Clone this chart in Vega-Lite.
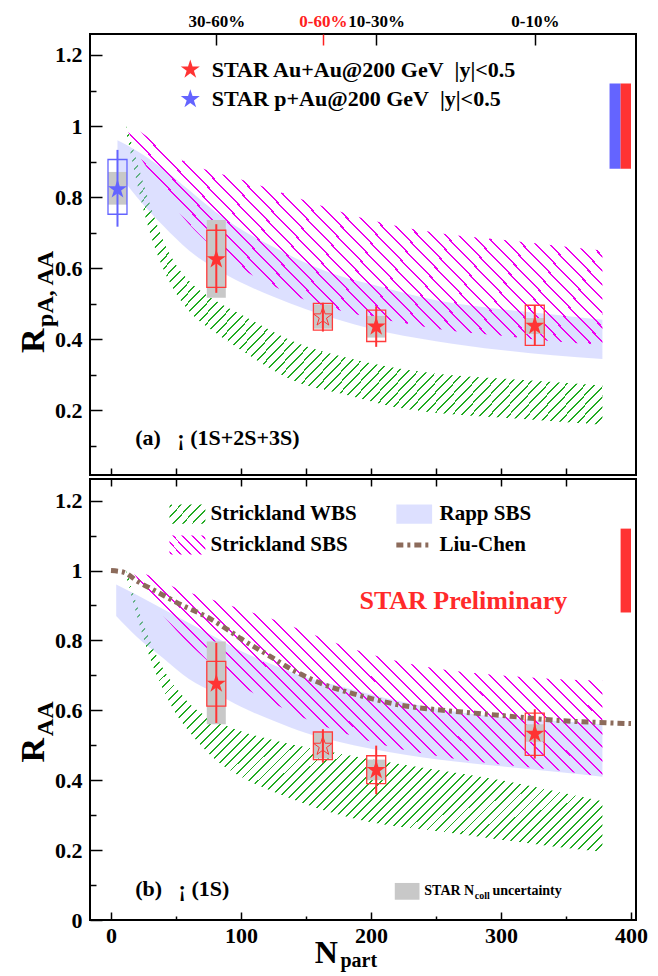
{
"$schema":"https://vega.github.io/schema/vega-lite/v6.json",
"background":"white",
"padding":{"left":16,"top":11,"right":0,"bottom":0},
"spacing":0,
"params":[
 {"name":"gM","value":{"gradient":"linear","x1":0,"y1":1,"x2":1.2,"y2":0.47,"stops":[
{"offset":0,"color":"#e0e"},{"offset":0.003,"color":"#e0e"},{"offset":0.003,"color":"#0000"},{"offset":0.02,"color":"#0000"},
{"offset":0.02,"color":"#e0e"},{"offset":0.023,"color":"#e0e"},{"offset":0.023,"color":"#0000"},{"offset":0.04,"color":"#0000"},
{"offset":0.04,"color":"#e0e"},{"offset":0.043,"color":"#e0e"},{"offset":0.043,"color":"#0000"},{"offset":0.06,"color":"#0000"},
{"offset":0.06,"color":"#e0e"},{"offset":0.063,"color":"#e0e"},{"offset":0.063,"color":"#0000"},{"offset":0.08,"color":"#0000"},
{"offset":0.08,"color":"#e0e"},{"offset":0.083,"color":"#e0e"},{"offset":0.083,"color":"#0000"},{"offset":0.1,"color":"#0000"},
{"offset":0.1,"color":"#e0e"},{"offset":0.103,"color":"#e0e"},{"offset":0.103,"color":"#0000"},{"offset":0.12,"color":"#0000"},
{"offset":0.12,"color":"#e0e"},{"offset":0.123,"color":"#e0e"},{"offset":0.123,"color":"#0000"},{"offset":0.14,"color":"#0000"},
{"offset":0.14,"color":"#e0e"},{"offset":0.143,"color":"#e0e"},{"offset":0.143,"color":"#0000"},{"offset":0.16,"color":"#0000"},
{"offset":0.16,"color":"#e0e"},{"offset":0.163,"color":"#e0e"},{"offset":0.163,"color":"#0000"},{"offset":0.18,"color":"#0000"},
{"offset":0.18,"color":"#e0e"},{"offset":0.183,"color":"#e0e"},{"offset":0.183,"color":"#0000"},{"offset":0.2,"color":"#0000"},
{"offset":0.2,"color":"#e0e"},{"offset":0.203,"color":"#e0e"},{"offset":0.203,"color":"#0000"},{"offset":0.22,"color":"#0000"},
{"offset":0.22,"color":"#e0e"},{"offset":0.223,"color":"#e0e"},{"offset":0.223,"color":"#0000"},{"offset":0.24,"color":"#0000"},
{"offset":0.24,"color":"#e0e"},{"offset":0.243,"color":"#e0e"},{"offset":0.243,"color":"#0000"},{"offset":0.26,"color":"#0000"},
{"offset":0.26,"color":"#e0e"},{"offset":0.263,"color":"#e0e"},{"offset":0.263,"color":"#0000"},{"offset":0.28,"color":"#0000"},
{"offset":0.28,"color":"#e0e"},{"offset":0.283,"color":"#e0e"},{"offset":0.283,"color":"#0000"},{"offset":0.3,"color":"#0000"},
{"offset":0.3,"color":"#e0e"},{"offset":0.303,"color":"#e0e"},{"offset":0.303,"color":"#0000"},{"offset":0.32,"color":"#0000"},
{"offset":0.32,"color":"#e0e"},{"offset":0.323,"color":"#e0e"},{"offset":0.323,"color":"#0000"},{"offset":0.34,"color":"#0000"},
{"offset":0.34,"color":"#e0e"},{"offset":0.343,"color":"#e0e"},{"offset":0.343,"color":"#0000"},{"offset":0.36,"color":"#0000"},
{"offset":0.36,"color":"#e0e"},{"offset":0.363,"color":"#e0e"},{"offset":0.363,"color":"#0000"},{"offset":0.38,"color":"#0000"},
{"offset":0.38,"color":"#e0e"},{"offset":0.383,"color":"#e0e"},{"offset":0.383,"color":"#0000"},{"offset":0.4,"color":"#0000"},
{"offset":0.4,"color":"#e0e"},{"offset":0.403,"color":"#e0e"},{"offset":0.403,"color":"#0000"},{"offset":0.42,"color":"#0000"},
{"offset":0.42,"color":"#e0e"},{"offset":0.423,"color":"#e0e"},{"offset":0.423,"color":"#0000"},{"offset":0.44,"color":"#0000"},
{"offset":0.44,"color":"#e0e"},{"offset":0.443,"color":"#e0e"},{"offset":0.443,"color":"#0000"},{"offset":0.46,"color":"#0000"},
{"offset":0.46,"color":"#e0e"},{"offset":0.463,"color":"#e0e"},{"offset":0.463,"color":"#0000"},{"offset":0.48,"color":"#0000"},
{"offset":0.48,"color":"#e0e"},{"offset":0.483,"color":"#e0e"},{"offset":0.483,"color":"#0000"},{"offset":0.5,"color":"#0000"},
{"offset":0.5,"color":"#e0e"},{"offset":0.503,"color":"#e0e"},{"offset":0.503,"color":"#0000"},{"offset":0.52,"color":"#0000"},
{"offset":0.52,"color":"#e0e"},{"offset":0.523,"color":"#e0e"},{"offset":0.523,"color":"#0000"},{"offset":0.54,"color":"#0000"},
{"offset":0.54,"color":"#e0e"},{"offset":0.543,"color":"#e0e"},{"offset":0.543,"color":"#0000"},{"offset":0.56,"color":"#0000"},
{"offset":0.56,"color":"#e0e"},{"offset":0.563,"color":"#e0e"},{"offset":0.563,"color":"#0000"},{"offset":0.58,"color":"#0000"},
{"offset":0.58,"color":"#e0e"},{"offset":0.583,"color":"#e0e"},{"offset":0.583,"color":"#0000"},{"offset":0.6,"color":"#0000"},
{"offset":0.6,"color":"#e0e"},{"offset":0.603,"color":"#e0e"},{"offset":0.603,"color":"#0000"},{"offset":0.62,"color":"#0000"},
{"offset":0.62,"color":"#e0e"},{"offset":0.623,"color":"#e0e"},{"offset":0.623,"color":"#0000"},{"offset":0.64,"color":"#0000"},
{"offset":0.64,"color":"#e0e"},{"offset":0.643,"color":"#e0e"},{"offset":0.643,"color":"#0000"},{"offset":0.66,"color":"#0000"},
{"offset":0.66,"color":"#e0e"},{"offset":0.663,"color":"#e0e"},{"offset":0.663,"color":"#0000"},{"offset":0.68,"color":"#0000"},
{"offset":0.68,"color":"#e0e"},{"offset":0.683,"color":"#e0e"},{"offset":0.683,"color":"#0000"},{"offset":0.7,"color":"#0000"},
{"offset":0.7,"color":"#e0e"},{"offset":0.703,"color":"#e0e"},{"offset":0.703,"color":"#0000"},{"offset":0.72,"color":"#0000"},
{"offset":0.72,"color":"#e0e"},{"offset":0.723,"color":"#e0e"},{"offset":0.723,"color":"#0000"},{"offset":0.74,"color":"#0000"},
{"offset":0.74,"color":"#e0e"},{"offset":0.743,"color":"#e0e"},{"offset":0.743,"color":"#0000"},{"offset":0.76,"color":"#0000"},
{"offset":0.76,"color":"#e0e"},{"offset":0.763,"color":"#e0e"},{"offset":0.763,"color":"#0000"},{"offset":0.78,"color":"#0000"},
{"offset":0.78,"color":"#e0e"},{"offset":0.783,"color":"#e0e"},{"offset":0.783,"color":"#0000"},{"offset":0.8,"color":"#0000"},
{"offset":0.8,"color":"#e0e"},{"offset":0.803,"color":"#e0e"},{"offset":0.803,"color":"#0000"},{"offset":0.82,"color":"#0000"},
{"offset":0.82,"color":"#e0e"},{"offset":0.823,"color":"#e0e"},{"offset":0.823,"color":"#0000"},{"offset":0.84,"color":"#0000"},
{"offset":0.84,"color":"#e0e"},{"offset":0.843,"color":"#e0e"},{"offset":0.843,"color":"#0000"},{"offset":0.86,"color":"#0000"},
{"offset":0.86,"color":"#e0e"},{"offset":0.863,"color":"#e0e"},{"offset":0.863,"color":"#0000"},{"offset":0.88,"color":"#0000"},
{"offset":0.88,"color":"#e0e"},{"offset":0.883,"color":"#e0e"},{"offset":0.883,"color":"#0000"},{"offset":0.9,"color":"#0000"},
{"offset":0.9,"color":"#e0e"},{"offset":0.903,"color":"#e0e"},{"offset":0.903,"color":"#0000"},{"offset":0.92,"color":"#0000"},
{"offset":0.92,"color":"#e0e"},{"offset":0.923,"color":"#e0e"},{"offset":0.923,"color":"#0000"},{"offset":0.94,"color":"#0000"},
{"offset":0.94,"color":"#e0e"},{"offset":0.943,"color":"#e0e"},{"offset":0.943,"color":"#0000"},{"offset":0.96,"color":"#0000"},
{"offset":0.96,"color":"#e0e"},{"offset":0.963,"color":"#e0e"},{"offset":0.963,"color":"#0000"},{"offset":0.98,"color":"#0000"},
{"offset":0.98,"color":"#e0e"},{"offset":0.983,"color":"#e0e"},{"offset":0.983,"color":"#0000"},{"offset":1,"color":"#0000"}
 ]}},
 {"name":"gG","value":{"gradient":"linear","x1":0,"y1":0,"x2":1.18,"y2":0.7,"stops":[
{"offset":0,"color":"#2a2"},{"offset":0.0025,"color":"#2a2"},{"offset":0.0025,"color":"#0000"},{"offset":0.0125,"color":"#0000"},
{"offset":0.0125,"color":"#2a2"},{"offset":0.015,"color":"#2a2"},{"offset":0.015,"color":"#0000"},{"offset":0.025,"color":"#0000"},
{"offset":0.025,"color":"#2a2"},{"offset":0.0275,"color":"#2a2"},{"offset":0.0275,"color":"#0000"},{"offset":0.0375,"color":"#0000"},
{"offset":0.0375,"color":"#2a2"},{"offset":0.04,"color":"#2a2"},{"offset":0.04,"color":"#0000"},{"offset":0.05,"color":"#0000"},
{"offset":0.05,"color":"#2a2"},{"offset":0.0525,"color":"#2a2"},{"offset":0.0525,"color":"#0000"},{"offset":0.0625,"color":"#0000"},
{"offset":0.0625,"color":"#2a2"},{"offset":0.065,"color":"#2a2"},{"offset":0.065,"color":"#0000"},{"offset":0.075,"color":"#0000"},
{"offset":0.075,"color":"#2a2"},{"offset":0.0775,"color":"#2a2"},{"offset":0.0775,"color":"#0000"},{"offset":0.0875,"color":"#0000"},
{"offset":0.0875,"color":"#2a2"},{"offset":0.09,"color":"#2a2"},{"offset":0.09,"color":"#0000"},{"offset":0.1,"color":"#0000"},
{"offset":0.1,"color":"#2a2"},{"offset":0.1025,"color":"#2a2"},{"offset":0.1025,"color":"#0000"},{"offset":0.1125,"color":"#0000"},
{"offset":0.1125,"color":"#2a2"},{"offset":0.115,"color":"#2a2"},{"offset":0.115,"color":"#0000"},{"offset":0.125,"color":"#0000"},
{"offset":0.125,"color":"#2a2"},{"offset":0.1275,"color":"#2a2"},{"offset":0.1275,"color":"#0000"},{"offset":0.1375,"color":"#0000"},
{"offset":0.1375,"color":"#2a2"},{"offset":0.14,"color":"#2a2"},{"offset":0.14,"color":"#0000"},{"offset":0.15,"color":"#0000"},
{"offset":0.15,"color":"#2a2"},{"offset":0.1525,"color":"#2a2"},{"offset":0.1525,"color":"#0000"},{"offset":0.1625,"color":"#0000"},
{"offset":0.1625,"color":"#2a2"},{"offset":0.165,"color":"#2a2"},{"offset":0.165,"color":"#0000"},{"offset":0.175,"color":"#0000"},
{"offset":0.175,"color":"#2a2"},{"offset":0.1775,"color":"#2a2"},{"offset":0.1775,"color":"#0000"},{"offset":0.1875,"color":"#0000"},
{"offset":0.1875,"color":"#2a2"},{"offset":0.19,"color":"#2a2"},{"offset":0.19,"color":"#0000"},{"offset":0.2,"color":"#0000"},
{"offset":0.2,"color":"#2a2"},{"offset":0.2025,"color":"#2a2"},{"offset":0.2025,"color":"#0000"},{"offset":0.2125,"color":"#0000"},
{"offset":0.2125,"color":"#2a2"},{"offset":0.215,"color":"#2a2"},{"offset":0.215,"color":"#0000"},{"offset":0.225,"color":"#0000"},
{"offset":0.225,"color":"#2a2"},{"offset":0.2275,"color":"#2a2"},{"offset":0.2275,"color":"#0000"},{"offset":0.2375,"color":"#0000"},
{"offset":0.2375,"color":"#2a2"},{"offset":0.24,"color":"#2a2"},{"offset":0.24,"color":"#0000"},{"offset":0.25,"color":"#0000"},
{"offset":0.25,"color":"#2a2"},{"offset":0.2525,"color":"#2a2"},{"offset":0.2525,"color":"#0000"},{"offset":0.2625,"color":"#0000"},
{"offset":0.2625,"color":"#2a2"},{"offset":0.265,"color":"#2a2"},{"offset":0.265,"color":"#0000"},{"offset":0.275,"color":"#0000"},
{"offset":0.275,"color":"#2a2"},{"offset":0.2775,"color":"#2a2"},{"offset":0.2775,"color":"#0000"},{"offset":0.2875,"color":"#0000"},
{"offset":0.2875,"color":"#2a2"},{"offset":0.29,"color":"#2a2"},{"offset":0.29,"color":"#0000"},{"offset":0.3,"color":"#0000"},
{"offset":0.3,"color":"#2a2"},{"offset":0.3025,"color":"#2a2"},{"offset":0.3025,"color":"#0000"},{"offset":0.3125,"color":"#0000"},
{"offset":0.3125,"color":"#2a2"},{"offset":0.315,"color":"#2a2"},{"offset":0.315,"color":"#0000"},{"offset":0.325,"color":"#0000"},
{"offset":0.325,"color":"#2a2"},{"offset":0.3275,"color":"#2a2"},{"offset":0.3275,"color":"#0000"},{"offset":0.3375,"color":"#0000"},
{"offset":0.3375,"color":"#2a2"},{"offset":0.34,"color":"#2a2"},{"offset":0.34,"color":"#0000"},{"offset":0.35,"color":"#0000"},
{"offset":0.35,"color":"#2a2"},{"offset":0.3525,"color":"#2a2"},{"offset":0.3525,"color":"#0000"},{"offset":0.3625,"color":"#0000"},
{"offset":0.3625,"color":"#2a2"},{"offset":0.365,"color":"#2a2"},{"offset":0.365,"color":"#0000"},{"offset":0.375,"color":"#0000"},
{"offset":0.375,"color":"#2a2"},{"offset":0.3775,"color":"#2a2"},{"offset":0.3775,"color":"#0000"},{"offset":0.3875,"color":"#0000"},
{"offset":0.3875,"color":"#2a2"},{"offset":0.39,"color":"#2a2"},{"offset":0.39,"color":"#0000"},{"offset":0.4,"color":"#0000"},
{"offset":0.4,"color":"#2a2"},{"offset":0.4025,"color":"#2a2"},{"offset":0.4025,"color":"#0000"},{"offset":0.4125,"color":"#0000"},
{"offset":0.4125,"color":"#2a2"},{"offset":0.415,"color":"#2a2"},{"offset":0.415,"color":"#0000"},{"offset":0.425,"color":"#0000"},
{"offset":0.425,"color":"#2a2"},{"offset":0.4275,"color":"#2a2"},{"offset":0.4275,"color":"#0000"},{"offset":0.4375,"color":"#0000"},
{"offset":0.4375,"color":"#2a2"},{"offset":0.44,"color":"#2a2"},{"offset":0.44,"color":"#0000"},{"offset":0.45,"color":"#0000"},
{"offset":0.45,"color":"#2a2"},{"offset":0.4525,"color":"#2a2"},{"offset":0.4525,"color":"#0000"},{"offset":0.4625,"color":"#0000"},
{"offset":0.4625,"color":"#2a2"},{"offset":0.465,"color":"#2a2"},{"offset":0.465,"color":"#0000"},{"offset":0.475,"color":"#0000"},
{"offset":0.475,"color":"#2a2"},{"offset":0.4775,"color":"#2a2"},{"offset":0.4775,"color":"#0000"},{"offset":0.4875,"color":"#0000"},
{"offset":0.4875,"color":"#2a2"},{"offset":0.49,"color":"#2a2"},{"offset":0.49,"color":"#0000"},{"offset":0.5,"color":"#0000"},
{"offset":0.5,"color":"#2a2"},{"offset":0.5025,"color":"#2a2"},{"offset":0.5025,"color":"#0000"},{"offset":0.5125,"color":"#0000"},
{"offset":0.5125,"color":"#2a2"},{"offset":0.515,"color":"#2a2"},{"offset":0.515,"color":"#0000"},{"offset":0.525,"color":"#0000"},
{"offset":0.525,"color":"#2a2"},{"offset":0.5275,"color":"#2a2"},{"offset":0.5275,"color":"#0000"},{"offset":0.5375,"color":"#0000"},
{"offset":0.5375,"color":"#2a2"},{"offset":0.54,"color":"#2a2"},{"offset":0.54,"color":"#0000"},{"offset":0.55,"color":"#0000"},
{"offset":0.55,"color":"#2a2"},{"offset":0.5525,"color":"#2a2"},{"offset":0.5525,"color":"#0000"},{"offset":0.5625,"color":"#0000"},
{"offset":0.5625,"color":"#2a2"},{"offset":0.565,"color":"#2a2"},{"offset":0.565,"color":"#0000"},{"offset":0.575,"color":"#0000"},
{"offset":0.575,"color":"#2a2"},{"offset":0.5775,"color":"#2a2"},{"offset":0.5775,"color":"#0000"},{"offset":0.5875,"color":"#0000"},
{"offset":0.5875,"color":"#2a2"},{"offset":0.59,"color":"#2a2"},{"offset":0.59,"color":"#0000"},{"offset":0.6,"color":"#0000"},
{"offset":0.6,"color":"#2a2"},{"offset":0.6025,"color":"#2a2"},{"offset":0.6025,"color":"#0000"},{"offset":0.6125,"color":"#0000"},
{"offset":0.6125,"color":"#2a2"},{"offset":0.615,"color":"#2a2"},{"offset":0.615,"color":"#0000"},{"offset":0.625,"color":"#0000"},
{"offset":0.625,"color":"#2a2"},{"offset":0.6275,"color":"#2a2"},{"offset":0.6275,"color":"#0000"},{"offset":0.6375,"color":"#0000"},
{"offset":0.6375,"color":"#2a2"},{"offset":0.64,"color":"#2a2"},{"offset":0.64,"color":"#0000"},{"offset":0.65,"color":"#0000"},
{"offset":0.65,"color":"#2a2"},{"offset":0.6525,"color":"#2a2"},{"offset":0.6525,"color":"#0000"},{"offset":0.6625,"color":"#0000"},
{"offset":0.6625,"color":"#2a2"},{"offset":0.665,"color":"#2a2"},{"offset":0.665,"color":"#0000"},{"offset":0.675,"color":"#0000"},
{"offset":0.675,"color":"#2a2"},{"offset":0.6775,"color":"#2a2"},{"offset":0.6775,"color":"#0000"},{"offset":0.6875,"color":"#0000"},
{"offset":0.6875,"color":"#2a2"},{"offset":0.69,"color":"#2a2"},{"offset":0.69,"color":"#0000"},{"offset":0.7,"color":"#0000"},
{"offset":0.7,"color":"#2a2"},{"offset":0.7025,"color":"#2a2"},{"offset":0.7025,"color":"#0000"},{"offset":0.7125,"color":"#0000"},
{"offset":0.7125,"color":"#2a2"},{"offset":0.715,"color":"#2a2"},{"offset":0.715,"color":"#0000"},{"offset":0.725,"color":"#0000"},
{"offset":0.725,"color":"#2a2"},{"offset":0.7275,"color":"#2a2"},{"offset":0.7275,"color":"#0000"},{"offset":0.7375,"color":"#0000"},
{"offset":0.7375,"color":"#2a2"},{"offset":0.74,"color":"#2a2"},{"offset":0.74,"color":"#0000"},{"offset":0.75,"color":"#0000"},
{"offset":0.75,"color":"#2a2"},{"offset":0.7525,"color":"#2a2"},{"offset":0.7525,"color":"#0000"},{"offset":0.7625,"color":"#0000"},
{"offset":0.7625,"color":"#2a2"},{"offset":0.765,"color":"#2a2"},{"offset":0.765,"color":"#0000"},{"offset":0.775,"color":"#0000"},
{"offset":0.775,"color":"#2a2"},{"offset":0.7775,"color":"#2a2"},{"offset":0.7775,"color":"#0000"},{"offset":0.7875,"color":"#0000"},
{"offset":0.7875,"color":"#2a2"},{"offset":0.79,"color":"#2a2"},{"offset":0.79,"color":"#0000"},{"offset":0.8,"color":"#0000"},
{"offset":0.8,"color":"#2a2"},{"offset":0.8025,"color":"#2a2"},{"offset":0.8025,"color":"#0000"},{"offset":0.8125,"color":"#0000"},
{"offset":0.8125,"color":"#2a2"},{"offset":0.815,"color":"#2a2"},{"offset":0.815,"color":"#0000"},{"offset":0.825,"color":"#0000"},
{"offset":0.825,"color":"#2a2"},{"offset":0.8275,"color":"#2a2"},{"offset":0.8275,"color":"#0000"},{"offset":0.8375,"color":"#0000"},
{"offset":0.8375,"color":"#2a2"},{"offset":0.84,"color":"#2a2"},{"offset":0.84,"color":"#0000"},{"offset":0.85,"color":"#0000"},
{"offset":0.85,"color":"#2a2"},{"offset":0.8525,"color":"#2a2"},{"offset":0.8525,"color":"#0000"},{"offset":0.8625,"color":"#0000"},
{"offset":0.8625,"color":"#2a2"},{"offset":0.865,"color":"#2a2"},{"offset":0.865,"color":"#0000"},{"offset":0.875,"color":"#0000"},
{"offset":0.875,"color":"#2a2"},{"offset":0.8775,"color":"#2a2"},{"offset":0.8775,"color":"#0000"},{"offset":0.8875,"color":"#0000"},
{"offset":0.8875,"color":"#2a2"},{"offset":0.89,"color":"#2a2"},{"offset":0.89,"color":"#0000"},{"offset":0.9,"color":"#0000"},
{"offset":0.9,"color":"#2a2"},{"offset":0.9025,"color":"#2a2"},{"offset":0.9025,"color":"#0000"},{"offset":0.9125,"color":"#0000"},
{"offset":0.9125,"color":"#2a2"},{"offset":0.915,"color":"#2a2"},{"offset":0.915,"color":"#0000"},{"offset":0.925,"color":"#0000"},
{"offset":0.925,"color":"#2a2"},{"offset":0.9275,"color":"#2a2"},{"offset":0.9275,"color":"#0000"},{"offset":0.9375,"color":"#0000"},
{"offset":0.9375,"color":"#2a2"},{"offset":0.94,"color":"#2a2"},{"offset":0.94,"color":"#0000"},{"offset":0.95,"color":"#0000"},
{"offset":0.95,"color":"#2a2"},{"offset":0.9525,"color":"#2a2"},{"offset":0.9525,"color":"#0000"},{"offset":0.9625,"color":"#0000"},
{"offset":0.9625,"color":"#2a2"},{"offset":0.965,"color":"#2a2"},{"offset":0.965,"color":"#0000"},{"offset":0.975,"color":"#0000"},
{"offset":0.975,"color":"#2a2"},{"offset":0.9775,"color":"#2a2"},{"offset":0.9775,"color":"#0000"},{"offset":0.9875,"color":"#0000"},
{"offset":0.9875,"color":"#2a2"},{"offset":0.99,"color":"#2a2"},{"offset":0.99,"color":"#0000"},{"offset":1,"color":"#0000"}
 ]}},
 {"name":"sG","value":{"gradient":"linear","x1":0,"y1":0,"x2":1.2,"y2":0.615,"stops":[
{"offset":0,"color":"#0000"},{"offset":0.02,"color":"#0000"},{"offset":0.02,"color":"#2a2"},{"offset":0.055,"color":"#2a2"},{"offset":0.055,"color":"#0000"},
{"offset":0.2,"color":"#0000"},{"offset":0.2,"color":"#2a2"},{"offset":0.235,"color":"#2a2"},{"offset":0.235,"color":"#0000"},
{"offset":0.38,"color":"#0000"},{"offset":0.38,"color":"#2a2"},{"offset":0.415,"color":"#2a2"},{"offset":0.415,"color":"#0000"},
{"offset":0.56,"color":"#0000"},{"offset":0.56,"color":"#2a2"},{"offset":0.595,"color":"#2a2"},{"offset":0.595,"color":"#0000"},
{"offset":0.74,"color":"#0000"},{"offset":0.74,"color":"#2a2"},{"offset":0.775,"color":"#2a2"},{"offset":0.775,"color":"#0000"},
{"offset":0.92,"color":"#0000"},{"offset":0.92,"color":"#2a2"},{"offset":0.955,"color":"#2a2"},{"offset":0.955,"color":"#0000"},{"offset":1,"color":"#0000"}
 ]}},
 {"name":"sM","value":{"gradient":"linear","x1":0,"y1":1,"x2":1.2,"y2":0.385,"stops":[
{"offset":0,"color":"#0000"},{"offset":0.02,"color":"#0000"},{"offset":0.02,"color":"#e0e"},{"offset":0.055,"color":"#e0e"},{"offset":0.055,"color":"#0000"},
{"offset":0.2,"color":"#0000"},{"offset":0.2,"color":"#e0e"},{"offset":0.235,"color":"#e0e"},{"offset":0.235,"color":"#0000"},
{"offset":0.38,"color":"#0000"},{"offset":0.38,"color":"#e0e"},{"offset":0.415,"color":"#e0e"},{"offset":0.415,"color":"#0000"},
{"offset":0.56,"color":"#0000"},{"offset":0.56,"color":"#e0e"},{"offset":0.595,"color":"#e0e"},{"offset":0.595,"color":"#0000"},
{"offset":0.74,"color":"#0000"},{"offset":0.74,"color":"#e0e"},{"offset":0.775,"color":"#e0e"},{"offset":0.775,"color":"#0000"},
{"offset":0.92,"color":"#0000"},{"offset":0.92,"color":"#e0e"},{"offset":0.955,"color":"#e0e"},{"offset":0.955,"color":"#0000"},{"offset":1,"color":"#0000"}
 ]}}
],
"config":{
 "view":{"stroke":"black","strokeWidth":2},
 "font":"Liberation Serif",
 "axis":{"domain":false,"grid":false,"labelFont":"Liberation Serif","labelFontWeight":"bold","labelFontSize":22,"labelColor":"black","tickColor":"black","tickWidth":1.5,"labelOverlap":false,"labelFlush":false,"labelBound":false},
 "text":{"font":"Liberation Serif","fontWeight":"bold","color":"black"}
},
"datasets":{
 "bands":[
  {"p":"a","m":"WBS","x":12,"lo":0.98,"hi":1.0},{"p":"a","m":"WBS","x":20,"lo":0.84,"hi":0.9},{"p":"a","m":"WBS","x":30,"lo":0.7,"hi":0.78},{"p":"a","m":"WBS","x":40,"lo":0.6,"hi":0.68},{"p":"a","m":"WBS","x":50,"lo":0.53,"hi":0.61},{"p":"a","m":"WBS","x":60,"lo":0.48,"hi":0.565},{"p":"a","m":"WBS","x":80,"lo":0.42,"hi":0.51},{"p":"a","m":"WBS","x":100,"lo":0.37,"hi":0.47},{"p":"a","m":"WBS","x":143,"lo":0.28,"hi":0.39},{"p":"a","m":"WBS","x":180,"lo":0.245,"hi":0.35},{"p":"a","m":"WBS","x":218,"lo":0.21,"hi":0.32},{"p":"a","m":"WBS","x":260,"lo":0.19,"hi":0.3},{"p":"a","m":"WBS","x":300,"lo":0.18,"hi":0.29},{"p":"a","m":"WBS","x":340,"lo":0.17,"hi":0.28},{"p":"a","m":"WBS","x":378,"lo":0.16,"hi":0.27},
  {"p":"a","m":"SBS","x":12,"lo":0.995,"hi":1.0},{"p":"a","m":"SBS","x":20,"lo":0.93,"hi":0.99},{"p":"a","m":"SBS","x":30,"lo":0.87,"hi":0.965},{"p":"a","m":"SBS","x":40,"lo":0.82,"hi":0.94},{"p":"a","m":"SBS","x":54,"lo":0.75,"hi":0.905},{"p":"a","m":"SBS","x":75,"lo":0.67,"hi":0.875},{"p":"a","m":"SBS","x":100,"lo":0.6,"hi":0.85},{"p":"a","m":"SBS","x":125,"lo":0.55,"hi":0.82},{"p":"a","m":"SBS","x":150,"lo":0.51,"hi":0.79},{"p":"a","m":"SBS","x":183,"lo":0.475,"hi":0.752},{"p":"a","m":"SBS","x":218,"lo":0.45,"hi":0.72},{"p":"a","m":"SBS","x":250,"lo":0.43,"hi":0.7},{"p":"a","m":"SBS","x":301,"lo":0.41,"hi":0.68},{"p":"a","m":"SBS","x":340,"lo":0.395,"hi":0.665},{"p":"a","m":"SBS","x":378,"lo":0.385,"hi":0.65},
  {"p":"a","m":"Rapp","x":5,"lo":0.87,"hi":0.96},{"p":"a","m":"Rapp","x":20,"lo":0.8,"hi":0.93},{"p":"a","m":"Rapp","x":40,"lo":0.72,"hi":0.88},{"p":"a","m":"Rapp","x":60,"lo":0.65,"hi":0.82},{"p":"a","m":"Rapp","x":80,"lo":0.6,"hi":0.76},{"p":"a","m":"Rapp","x":100,"lo":0.56,"hi":0.71},{"p":"a","m":"Rapp","x":125,"lo":0.52,"hi":0.66},{"p":"a","m":"Rapp","x":150,"lo":0.485,"hi":0.615},{"p":"a","m":"Rapp","x":175,"lo":0.455,"hi":0.58},{"p":"a","m":"Rapp","x":200,"lo":0.43,"hi":0.555},{"p":"a","m":"Rapp","x":250,"lo":0.395,"hi":0.51},{"p":"a","m":"Rapp","x":300,"lo":0.37,"hi":0.485},{"p":"a","m":"Rapp","x":340,"lo":0.355,"hi":0.47},{"p":"a","m":"Rapp","x":378,"lo":0.345,"hi":0.455},
  {"p":"b","m":"WBS","x":12,"lo":0.98,"hi":1.0},{"p":"b","m":"WBS","x":20,"lo":0.87,"hi":0.9},{"p":"b","m":"WBS","x":30,"lo":0.75,"hi":0.8},{"p":"b","m":"WBS","x":40,"lo":0.66,"hi":0.72},{"p":"b","m":"WBS","x":50,"lo":0.59,"hi":0.665},{"p":"b","m":"WBS","x":60,"lo":0.54,"hi":0.62},{"p":"b","m":"WBS","x":80,"lo":0.46,"hi":0.57},{"p":"b","m":"WBS","x":100,"lo":0.41,"hi":0.54},{"p":"b","m":"WBS","x":130,"lo":0.36,"hi":0.51},{"p":"b","m":"WBS","x":163,"lo":0.315,"hi":0.485},{"p":"b","m":"WBS","x":200,"lo":0.28,"hi":0.46},{"p":"b","m":"WBS","x":250,"lo":0.255,"hi":0.43},{"p":"b","m":"WBS","x":300,"lo":0.23,"hi":0.4},{"p":"b","m":"WBS","x":340,"lo":0.21,"hi":0.37},{"p":"b","m":"WBS","x":378,"lo":0.195,"hi":0.34},
  {"p":"b","m":"SBS","x":18,"lo":0.99,"hi":1.0},{"p":"b","m":"SBS","x":30,"lo":0.92,"hi":0.985},{"p":"b","m":"SBS","x":50,"lo":0.83,"hi":0.95},{"p":"b","m":"SBS","x":75,"lo":0.74,"hi":0.92},{"p":"b","m":"SBS","x":100,"lo":0.67,"hi":0.89},{"p":"b","m":"SBS","x":125,"lo":0.62,"hi":0.86},{"p":"b","m":"SBS","x":150,"lo":0.575,"hi":0.825},{"p":"b","m":"SBS","x":175,"lo":0.54,"hi":0.79},{"p":"b","m":"SBS","x":200,"lo":0.51,"hi":0.76},{"p":"b","m":"SBS","x":250,"lo":0.47,"hi":0.72},{"p":"b","m":"SBS","x":300,"lo":0.445,"hi":0.7},{"p":"b","m":"SBS","x":340,"lo":0.43,"hi":0.69},{"p":"b","m":"SBS","x":378,"lo":0.41,"hi":0.685},
  {"p":"b","m":"Rapp","x":4,"lo":0.87,"hi":0.96},{"p":"b","m":"Rapp","x":20,"lo":0.81,"hi":0.93},{"p":"b","m":"Rapp","x":40,"lo":0.75,"hi":0.89},{"p":"b","m":"Rapp","x":60,"lo":0.69,"hi":0.85},{"p":"b","m":"Rapp","x":80,"lo":0.65,"hi":0.81},{"p":"b","m":"Rapp","x":100,"lo":0.61,"hi":0.77},{"p":"b","m":"Rapp","x":125,"lo":0.57,"hi":0.73},{"p":"b","m":"Rapp","x":150,"lo":0.535,"hi":0.695},{"p":"b","m":"Rapp","x":175,"lo":0.51,"hi":0.67},{"p":"b","m":"Rapp","x":200,"lo":0.49,"hi":0.645},{"p":"b","m":"Rapp","x":250,"lo":0.46,"hi":0.605},{"p":"b","m":"Rapp","x":300,"lo":0.44,"hi":0.58},{"p":"b","m":"Rapp","x":340,"lo":0.425,"hi":0.57},{"p":"b","m":"Rapp","x":378,"lo":0.41,"hi":0.56}
 ],
 "liu":[
  {"x":0,"r":1.0},{"x":10,"r":0.995},{"x":20,"r":0.97},{"x":35,"r":0.94},{"x":55,"r":0.9},{"x":75,"r":0.865},{"x":90,"r":0.83},{"x":100,"r":0.805},{"x":120,"r":0.76},{"x":140,"r":0.715},{"x":163,"r":0.675},{"x":186,"r":0.648},{"x":201,"r":0.633},{"x":221,"r":0.616},{"x":250,"r":0.602},{"x":280,"r":0.592},{"x":310,"r":0.582},{"x":340,"r":0.572},{"x":370,"r":0.566},{"x":400,"r":0.562}
 ],
 "pts":[
  {"p":"a","e":"pAu","x":5,"y":0.822,"sLo":0.752,"sHi":0.906,"nLo":0.779,"nHi":0.871,"eLo":0.717,"eHi":0.933,"open":false},
  {"p":"a","e":"AuAu","x":81,"y":0.625,"sLo":0.546,"sHi":0.707,"nLo":0.517,"nHi":0.736,"eLo":0.531,"eHi":0.724,"open":false},
  {"p":"a","e":"AuAu","x":163,"y":0.463,"sLo":0.426,"sHi":0.501,"nLo":0.43,"nHi":0.498,"eLo":0.422,"eHi":0.503,"open":true},
  {"p":"a","e":"AuAu","x":204,"y":0.436,"sLo":0.394,"sHi":0.482,"nLo":0.405,"nHi":0.466,"eLo":0.379,"eHi":0.493,"open":false},
  {"p":"a","e":"AuAu","x":326,"y":0.438,"sLo":0.383,"sHi":0.496,"nLo":0.415,"nHi":0.46,"eLo":0.383,"eHi":0.496,"open":false},
  {"p":"b","e":"AuAu","x":81,"y":0.676,"sLo":0.612,"sHi":0.74,"nLo":0.56,"nHi":0.797,"eLo":0.564,"eHi":0.793,"open":false},
  {"p":"b","e":"AuAu","x":163,"y":0.497,"sLo":0.459,"sHi":0.538,"nLo":0.462,"nHi":0.535,"eLo":0.45,"eHi":0.546,"open":true},
  {"p":"b","e":"AuAu","x":204,"y":0.429,"sLo":0.39,"sHi":0.47,"nLo":0.4,"nHi":0.459,"eLo":0.36,"eHi":0.499,"open":false},
  {"p":"b","e":"AuAu","x":326,"y":0.533,"sLo":0.471,"sHi":0.592,"nLo":0.51,"nHi":0.56,"eLo":0.462,"eHi":0.603,"open":false}
 ],
 "glob":[
  {"p":"a","e":"pAu","lo":0.88,"hi":1.12},{"p":"a","e":"AuAu","lo":0.88,"hi":1.12},{"p":"b","e":"AuAu","lo":0.88,"hi":1.12}
 ]
},
"vconcat":[
 {
  "width":546,"height":441,
  "resolve":{"axis":{"x":"independent","y":"independent"}},
  "layer":[
   {"data":{"name":"bands"},"transform":[{"filter":"datum.p=='a' && datum.m=='WBS'"}],
    "mark":{"type":"area","fill":{"expr":"gG"},"interpolate":"monotone"},
    "encoding":{
     "x":{"field":"x","type":"quantitative","scale":{"domain":[-12.3,400],"nice":false,"zero":false},
      "axis":{"orient":"bottom","values":[0,50,100,150,200,250,300,350],"labels":false,"tickSize":-7,"title":null}},
     "y":{"field":"lo","type":"quantitative","scale":{"domain":[0.0185,1.259],"nice":false,"zero":false},
      "axis":{"orient":"left","title":null,"values":[0.2,0.4,0.6,0.8,1,1.2],
       "labelExpr":"datum.value==1 ? '1' : format(datum.value,'.1f')",
       "tickSize":-12,"labelPadding":20}},
     "y2":{"field":"hi"}}},
   {"data":{"name":"bands"},"transform":[{"filter":"datum.p=='a' && datum.m=='Rapp'"}],
    "mark":{"type":"area","fill":"#b4baff","fillOpacity":0.45,"interpolate":"monotone"},
    "encoding":{"x":{"field":"x","type":"quantitative","axis":null},
     "y":{"field":"lo","type":"quantitative","axis":{"orient":"left","title":null,"values":[0.1,0.3,0.5,0.7,0.9,1.1],"labels":false,"tickSize":-6}},
     "y2":{"field":"hi"}}},
   {"data":{"name":"bands"},"transform":[{"filter":"datum.p=='a' && datum.m=='SBS'"}],
    "mark":{"type":"area","fill":{"expr":"gM"},"interpolate":"monotone"},
    "encoding":{
     "x":{"field":"x","type":"quantitative","axis":{"orient":"top","title":null,"values":[81,163,204,326],
       "labelExpr":"datum.value==81 ? '30-60%' : datum.value==163 ? '0-60%' : datum.value==204 ? '10-30%' : '0-10%'",
       "labelColor":{"condition":{"test":"datum.value==163","value":"#ff2020"},"value":"black"},
       "tickColor":{"condition":{"test":"datum.value==163","value":"#ff2020"},"value":"black"},
       "tickSize":-11,"labelPadding":15,"labelFontSize":17}},
     "y":{"field":"lo","type":"quantitative","axis":null},"y2":{"field":"hi"}}},
   {"data":{"name":"glob"},"transform":[{"filter":"datum.p=='a' && datum.e=='pAu'"}],
    "mark":{"type":"rect","color":"#6464ff"},
    "encoding":{"x":{"datum":383.5,"type":"quantitative","axis":null},"x2":{"datum":392},"y":{"field":"lo","type":"quantitative","axis":null},"y2":{"field":"hi"}}},
   {"data":{"name":"glob"},"transform":[{"filter":"datum.p=='a' && datum.e=='AuAu'"}],
    "mark":{"type":"rect","color":"#ff3333"},
    "encoding":{"x":{"datum":392,"type":"quantitative","axis":null},"x2":{"datum":400},"y":{"field":"lo","type":"quantitative","axis":null},"y2":{"field":"hi"}}},
   {"data":{"name":"pts"},"transform":[{"filter":"datum.p=='a'"}],
    "mark":{"type":"bar","size":19,"color":"#c8c8c8"},
    "encoding":{"x":{"field":"x","type":"quantitative","axis":null},"y":{"field":"nLo","type":"quantitative","axis":null},"y2":{"field":"nHi"}}},
   {"data":{"name":"pts"},"transform":[{"filter":"datum.p=='a'"}],
    "mark":{"type":"bar","size":19,"fill":"transparent","strokeWidth":1.3},
    "encoding":{"x":{"field":"x","type":"quantitative","axis":null},"y":{"field":"sLo","type":"quantitative","axis":null},"y2":{"field":"sHi"},
     "stroke":{"field":"e","type":"nominal","scale":{"domain":["AuAu","pAu"],"range":["#ff3b3b","#6464ff"]},"legend":null}}},
   {"data":{"name":"pts"},"transform":[{"filter":"datum.p=='a'"}],
    "mark":{"type":"rule","strokeWidth":2},
    "encoding":{"x":{"field":"x","type":"quantitative","axis":null},"y":{"field":"eLo","type":"quantitative","axis":null},"y2":{"field":"eHi"},
     "color":{"field":"e","type":"nominal","scale":{"domain":["AuAu","pAu"],"range":["#ff3333","#6464ff"]},"legend":null}}},
   {"data":{"name":"pts"},"transform":[{"filter":"datum.p=='a' && !datum.open"}],
    "mark":{"type":"point","shape":"M0,-1L0.2245,-0.309L0.951,-0.309L0.363,0.118L0.588,0.809L0,0.382L-0.588,0.809L-0.363,0.118L-0.951,-0.309L-0.2245,-0.309Z","filled":true,"size":400,"opacity":1},
    "encoding":{"x":{"field":"x","type":"quantitative","axis":null},"y":{"field":"y","type":"quantitative","axis":null},
     "color":{"field":"e","type":"nominal","scale":{"domain":["AuAu","pAu"],"range":["#ff3333","#6464ff"]},"legend":null}}},
   {"data":{"name":"pts"},"transform":[{"filter":"datum.p=='a' && datum.open"}],
    "mark":{"type":"point","shape":"M0,-1L0.2245,-0.309L0.951,-0.309L0.363,0.118L0.588,0.809L0,0.382L-0.588,0.809L-0.363,0.118L-0.951,-0.309L-0.2245,-0.309Z","filled":false,"size":400,"opacity":1,"color":"#ff3333","strokeWidth":1},
    "encoding":{"x":{"field":"x","type":"quantitative","axis":null},"y":{"field":"y","type":"quantitative","axis":null}}},
   {"data":{"values":[{}]},
    "mark":{"type":"point","shape":"M0,-1L0.2245,-0.309L0.951,-0.309L0.363,0.118L0.588,0.809L0,0.382L-0.588,0.809L-0.363,0.118L-0.951,-0.309L-0.2245,-0.309Z","filled":true,"size":400,"opacity":1,"color":"#ff3333"},
    "encoding":{"x":{"datum":61,"type":"quantitative","axis":null},"y":{"datum":1.159,"type":"quantitative","axis":null}}},
   {"data":{"values":[{}]},
    "mark":{"type":"point","shape":"M0,-1L0.2245,-0.309L0.951,-0.309L0.363,0.118L0.588,0.809L0,0.382L-0.588,0.809L-0.363,0.118L-0.951,-0.309L-0.2245,-0.309Z","filled":true,"size":400,"opacity":1,"color":"#6464ff"},
    "encoding":{"x":{"datum":61,"type":"quantitative","axis":null},"y":{"datum":1.0756,"type":"quantitative","axis":null}}},
   {"data":{"values":[{}]},
    "mark":{"type":"text","text":"STAR Au+Au@200 GeV\u00a0 |y|<0.5","align":"left","baseline":"middle","fontSize":22},
    "encoding":{"x":{"datum":77.5,"type":"quantitative","axis":null},"y":{"datum":1.159,"type":"quantitative","axis":null}}},
   {"data":{"values":[{}]},
    "mark":{"type":"text","text":"STAR p+Au@200 GeV\u00a0 |y|<0.5","align":"left","baseline":"middle","fontSize":22},
    "encoding":{"x":{"datum":77.5,"type":"quantitative","axis":null},"y":{"datum":1.0756,"type":"quantitative","axis":null}}},
   {"data":{"values":[{}]},
    "mark":{"type":"text","text":"(a)\u00a0\u00a0 ¡ (1S+2S+3S)","align":"left","baseline":"middle","fontSize":22},
    "encoding":{"x":{"datum":18.6,"type":"quantitative","axis":null},"y":{"datum":0.123,"type":"quantitative","axis":null}}},
   {"data":{"values":[{}]},
    "mark":{"type":"text","text":"R","align":"left","baseline":"alphabetic","fontSize":34,"angle":270},
    "encoding":{"x":{"datum":-51.5,"type":"quantitative","axis":null},"y":{"datum":0.362,"type":"quantitative","axis":null}}},
   {"data":{"values":[{}]},
    "mark":{"type":"text","text":"pA, AA","align":"left","baseline":"alphabetic","fontSize":24,"angle":270},
    "encoding":{"x":{"datum":-44.8,"type":"quantitative","axis":null},"y":{"datum":0.435,"type":"quantitative","axis":null}}}
  ]
 },
 {
  "width":546,"height":441,
  "resolve":{"axis":{"x":"independent","y":"independent"}},
  "layer":[
   {"data":{"name":"bands"},"transform":[{"filter":"datum.p=='b' && datum.m=='WBS'"}],
    "mark":{"type":"area","fill":{"expr":"gG"},"interpolate":"monotone"},
    "encoding":{
     "x":{"field":"x","type":"quantitative","scale":{"domain":[-12.3,400],"nice":false,"zero":false},
      "axis":{"orient":"bottom","title":null,"values":[0,100,200,300,400],"tickSize":-8,"labelPadding":13}},
     "y":{"field":"lo","type":"quantitative","scale":{"domain":[0,1.262],"nice":false,"zero":false},
      "axis":{"orient":"left","title":null,"values":[0,0.2,0.4,0.6,0.8,1,1.2],
       "labelExpr":"datum.value==1 ? '1' : datum.value==0 ? '0' : format(datum.value,'.1f')",
       "tickSize":-12,"labelPadding":20}},
     "y2":{"field":"hi"}}},
   {"data":{"name":"bands"},"transform":[{"filter":"datum.p=='b' && datum.m=='Rapp'"}],
    "mark":{"type":"area","fill":"#b4baff","fillOpacity":0.45,"interpolate":"monotone"},
    "encoding":{
     "x":{"field":"x","type":"quantitative","axis":{"orient":"bottom","title":null,"values":[50,150,250,350],"labels":false,"tickSize":-4}},
     "y":{"field":"lo","type":"quantitative","axis":{"orient":"left","title":null,"values":[0.1,0.3,0.5,0.7,0.9,1.1],"labels":false,"tickSize":-6}},
     "y2":{"field":"hi"}}},
   {"data":{"name":"bands"},"transform":[{"filter":"datum.p=='b' && datum.m=='SBS'"}],
    "mark":{"type":"area","fill":{"expr":"gM"},"interpolate":"monotone"},
    "encoding":{
     "x":{"field":"x","type":"quantitative","axis":{"orient":"top","title":null,"values":[0,50,100,150,200,250,300,350],"labels":false,"tickSize":-7}},
     "y":{"field":"lo","type":"quantitative","axis":null},"y2":{"field":"hi"}}},
   {"data":{"name":"liu"},
    "mark":{"type":"line","color":"#8c6b5b","strokeWidth":5,"strokeDash":[7,4,3,4],"interpolate":"monotone"},
    "encoding":{"x":{"field":"x","type":"quantitative","axis":null},"y":{"field":"r","type":"quantitative","axis":null}}},
   {"data":{"name":"glob"},"transform":[{"filter":"datum.p=='b'"}],
    "mark":{"type":"rect","color":"#ff3333"},
    "encoding":{"x":{"datum":392,"type":"quantitative","axis":null},"x2":{"datum":400},"y":{"field":"lo","type":"quantitative","axis":null},"y2":{"field":"hi"}}},
   {"data":{"name":"pts"},"transform":[{"filter":"datum.p=='b'"}],
    "mark":{"type":"bar","size":19,"color":"#c8c8c8"},
    "encoding":{"x":{"field":"x","type":"quantitative","axis":null},"y":{"field":"nLo","type":"quantitative","axis":null},"y2":{"field":"nHi"}}},
   {"data":{"name":"pts"},"transform":[{"filter":"datum.p=='b'"}],
    "mark":{"type":"bar","size":19,"fill":"transparent","stroke":"#ff3b3b","strokeWidth":1.3},
    "encoding":{"x":{"field":"x","type":"quantitative","axis":null},"y":{"field":"sLo","type":"quantitative","axis":null},"y2":{"field":"sHi"}}},
   {"data":{"name":"pts"},"transform":[{"filter":"datum.p=='b'"}],
    "mark":{"type":"rule","strokeWidth":2,"color":"#ff3333"},
    "encoding":{"x":{"field":"x","type":"quantitative","axis":null},"y":{"field":"eLo","type":"quantitative","axis":null},"y2":{"field":"eHi"}}},
   {"data":{"name":"pts"},"transform":[{"filter":"datum.p=='b' && !datum.open"}],
    "mark":{"type":"point","shape":"M0,-1L0.2245,-0.309L0.951,-0.309L0.363,0.118L0.588,0.809L0,0.382L-0.588,0.809L-0.363,0.118L-0.951,-0.309L-0.2245,-0.309Z","filled":true,"size":400,"opacity":1,"color":"#ff3333"},
    "encoding":{"x":{"field":"x","type":"quantitative","axis":null},"y":{"field":"y","type":"quantitative","axis":null}}},
   {"data":{"name":"pts"},"transform":[{"filter":"datum.p=='b' && datum.open"}],
    "mark":{"type":"point","shape":"M0,-1L0.2245,-0.309L0.951,-0.309L0.363,0.118L0.588,0.809L0,0.382L-0.588,0.809L-0.363,0.118L-0.951,-0.309L-0.2245,-0.309Z","filled":false,"size":400,"opacity":1,"color":"#ff3333","strokeWidth":1},
    "encoding":{"x":{"field":"x","type":"quantitative","axis":null},"y":{"field":"y","type":"quantitative","axis":null}}},
   {"data":{"values":[{}]},
    "mark":{"type":"rect","fill":{"expr":"sG"}},
    "encoding":{"x":{"datum":45,"type":"quantitative","axis":null},"x2":{"datum":72.6},"y":{"datum":1.134,"type":"quantitative","axis":null},"y2":{"datum":1.189}}},
   {"data":{"values":[{}]},
    "mark":{"type":"rect","fill":{"expr":"sM"}},
    "encoding":{"x":{"datum":45,"type":"quantitative","axis":null},"x2":{"datum":72.6},"y":{"datum":1.046,"type":"quantitative","axis":null},"y2":{"datum":1.1}}},
   {"data":{"values":[{}]},
    "mark":{"type":"rect","fill":"#b4baff","fillOpacity":0.45},
    "encoding":{"x":{"datum":219.5,"type":"quantitative","axis":null},"x2":{"datum":247},"y":{"datum":1.134,"type":"quantitative","axis":null},"y2":{"datum":1.189}}},
   {"data":{"values":[{}]},
    "mark":{"type":"rule","color":"#8c6b5b","strokeWidth":5,"strokeDash":[7,4,3,4]},
    "encoding":{"x":{"datum":219.5,"type":"quantitative","axis":null},"x2":{"datum":247},"y":{"datum":1.073,"type":"quantitative","axis":null}}},
   {"data":{"values":[{}]},
    "mark":{"type":"text","text":"Strickland WBS","align":"left","baseline":"middle","fontSize":21},
    "encoding":{"x":{"datum":76.6,"type":"quantitative","axis":null},"y":{"datum":1.162,"type":"quantitative","axis":null}}},
   {"data":{"values":[{}]},
    "mark":{"type":"text","text":"Strickland SBS","align":"left","baseline":"middle","fontSize":21},
    "encoding":{"x":{"datum":76.6,"type":"quantitative","axis":null},"y":{"datum":1.073,"type":"quantitative","axis":null}}},
   {"data":{"values":[{}]},
    "mark":{"type":"text","text":"Rapp SBS","align":"left","baseline":"middle","fontSize":21},
    "encoding":{"x":{"datum":252.7,"type":"quantitative","axis":null},"y":{"datum":1.162,"type":"quantitative","axis":null}}},
   {"data":{"values":[{}]},
    "mark":{"type":"text","text":"Liu-Chen","align":"left","baseline":"middle","fontSize":21},
    "encoding":{"x":{"datum":252.7,"type":"quantitative","axis":null},"y":{"datum":1.073,"type":"quantitative","axis":null}}},
   {"data":{"values":[{}]},
    "mark":{"type":"text","text":"STAR Preliminary","align":"center","baseline":"middle","fontSize":26,"color":"#ff2a2a"},
    "encoding":{"x":{"datum":271,"type":"quantitative","axis":null},"y":{"datum":0.912,"type":"quantitative","axis":null}}},
   {"data":{"values":[{}]},
    "mark":{"type":"text","text":"(b)\u00a0\u00a0 ¡ (1S)","align":"left","baseline":"middle","fontSize":22},
    "encoding":{"x":{"datum":18.6,"type":"quantitative","axis":null},"y":{"datum":0.09,"type":"quantitative","axis":null}}},
   {"data":{"values":[{}]},
    "mark":{"type":"rect","color":"#c8c8c8"},
    "encoding":{"x":{"datum":218.3,"type":"quantitative","axis":null},"x2":{"datum":237.3},"y":{"datum":0.058,"type":"quantitative","axis":null},"y2":{"datum":0.106}}},
   {"data":{"values":[{}]},
    "mark":{"type":"text","text":"STAR N","align":"left","baseline":"middle","fontSize":14},
    "encoding":{"x":{"datum":241,"type":"quantitative","axis":null},"y":{"datum":0.082,"type":"quantitative","axis":null}}},
   {"data":{"values":[{}]},
    "mark":{"type":"text","text":"coll","align":"left","baseline":"middle","fontSize":10},
    "encoding":{"x":{"datum":279.8,"type":"quantitative","axis":null},"y":{"datum":0.068,"type":"quantitative","axis":null}}},
   {"data":{"values":[{}]},
    "mark":{"type":"text","text":"uncertainty","align":"left","baseline":"middle","fontSize":14},
    "encoding":{"x":{"datum":293.5,"type":"quantitative","axis":null},"y":{"datum":0.082,"type":"quantitative","axis":null}}},
   {"data":{"values":[{}]},
    "mark":{"type":"text","text":"R","align":"left","baseline":"alphabetic","fontSize":34,"angle":270},
    "encoding":{"x":{"datum":-51.5,"type":"quantitative","axis":null},"y":{"datum":0.451,"type":"quantitative","axis":null}}},
   {"data":{"values":[{}]},
    "mark":{"type":"text","text":"AA","align":"left","baseline":"alphabetic","fontSize":24,"angle":270},
    "encoding":{"x":{"datum":-44.8,"type":"quantitative","axis":null},"y":{"datum":0.526,"type":"quantitative","axis":null}}},
   {"data":{"values":[{}]},
    "mark":{"type":"text","text":"N","align":"left","baseline":"alphabetic","fontSize":32},
    "encoding":{"x":{"datum":156.8,"type":"quantitative","axis":null},"y":{"datum":-0.122,"type":"quantitative","axis":null}}},
   {"data":{"values":[{}]},
    "mark":{"type":"text","text":"part","align":"left","baseline":"alphabetic","fontSize":20},
    "encoding":{"x":{"datum":176.5,"type":"quantitative","axis":null},"y":{"datum":-0.135,"type":"quantitative","axis":null}}}
  ]
 }
]
}
